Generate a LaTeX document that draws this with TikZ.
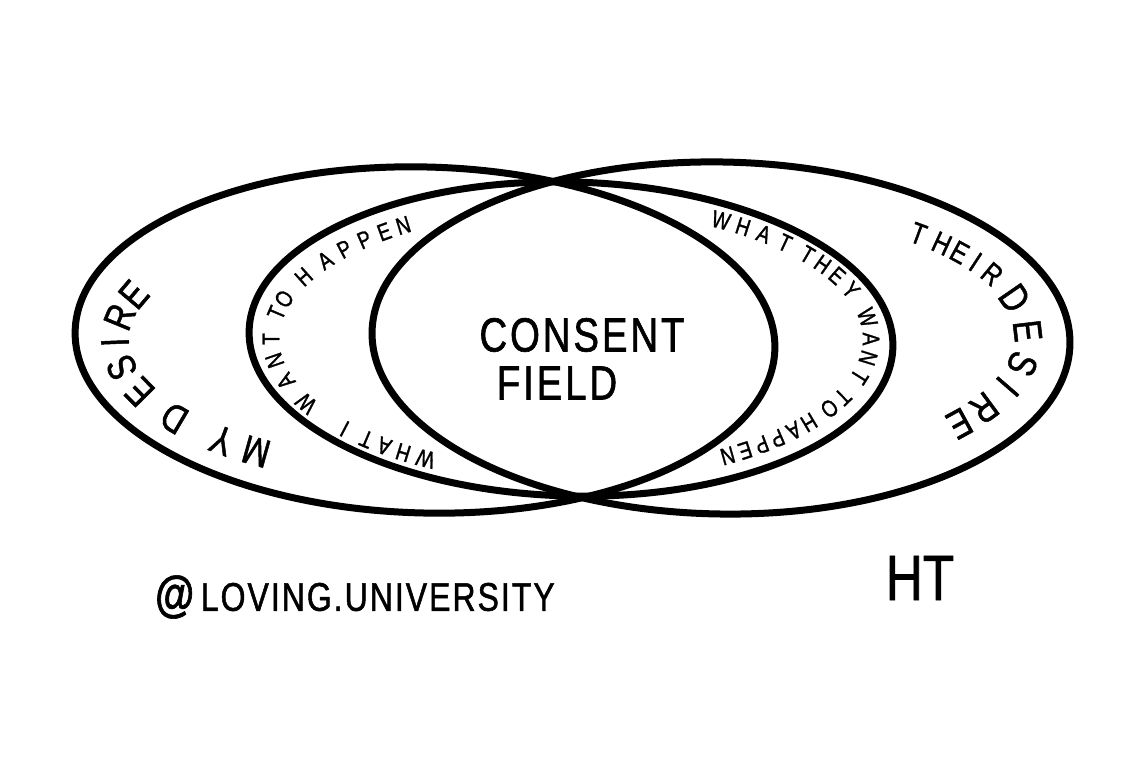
\documentclass[tikz,border=0pt]{standalone}
\usepackage{fontspec}
\setmainfont{Liberation Sans}
\newfontfamily\handfont[FakeStretch=0.8, FakeBold=1.2]{Liberation Sans}
\usetikzlibrary{shapes.geometric}

\begin{document}
\begin{tikzpicture}[
  x=1pt, y=1pt,
  ring/.style={draw=black, line width=7pt, ellipse, inner sep=0pt, outer sep=0pt},
  big/.style={font=\handfont\fontsize{40}{40}\selectfont, text=black, inner sep=0pt},
  mid/.style={font=\handfont\fontsize{30}{30}\selectfont, text=black, inner sep=0pt},
  small/.style={font=\handfont\fontsize{24}{24}\selectfont, text=black, inner sep=0pt},
  label/.style={font=\handfont\fontsize{48}{48}\selectfont\addfontfeature{LetterSpace=6}, text=black, inner sep=0pt},
]
\useasboundingbox (0,0) rectangle (1148,776);
\fill[white] (0,0) rectangle (1148,776);

%% ============ rings ============
\node[ring, minimum width=700pt, minimum height=346pt, rotate=-1.5] (mydesire) at (425,436) {};
\node[ring, minimum width=644pt, minimum height=314pt, rotate=-1.5] (want) at (571,437) {};
\node[ring, minimum width=698pt, minimum height=352pt, rotate=-1] (theirdesire) at (721,438) {};

%% ============ centre ============
\node[label] (consent) at (582,441) {CONSENT};
\node[label] (field) at (557,393) {FIELD};

%% ============ MY DESIRE ============
\def\ecx{425}\def\ecy{436}\def\era{310}\def\erb{133}
\foreach \ch/\t [count=\i] in {M/237, Y/229, D/216, E/203, S/192, I/181, R/170, E/160}
  \node[big, rotate={atan2(-\erb*cos(\t), \era*sin(\t))}] (my\i) at ({\ecx+\era*cos(\t)}, {\ecy+\erb*sin(\t)}) {\ch};

%% ============ THEIR DESIRE ============
\def\ecx{721}\def\ecy{438}\def\era{307}\def\erb{136}
\foreach \ch/\t [count=\i] in {T/50, H/44, E/39, I/34, R/28}
  \node[mid, rotate={atan2(-\erb*cos(\t), \era*sin(\t))}] (their\i) at ({\ecx+\era*cos(\t)}, {\ecy+\erb*sin(\t)}) {\ch};
\foreach \ch/\t [count=\i] in {D/17, E/3, S/-11, I/-21, R/-31, E/-39}
  \node[big, rotate={atan2(-\erb*cos(\t), \era*sin(\t))}] (tdes\i) at ({\ecx+\era*cos(\t)}, {\ecy+\erb*sin(\t)}) {\ch};

%% ============ WHAT I / WHAT THEY WANT TO HAPPEN ============
\def\ecx{571}\def\ecy{437}\def\era{300}\def\erb{137}
\foreach \ch/\t [count=\i] in {W/241, H/236, A/231.5, T/227, I/221, W/208, A/198, N/189, T/180,
    T/169, O/163, H/153, A/145, P/139, P/133.5, E/128.5, N/124}
  \node[small, rotate={atan2(-\erb*cos(\t), \era*sin(\t))}] (iw\i) at ({\ecx+\era*cos(\t)}, {\ecy+\erb*sin(\t)}) {\ch};
\foreach \ch/\t [count=\i] in {W/60, H/55, A/50, T/44.5, T/38, H/33, E/27.5, Y/21, W/9, A/0, N/-8, T/-16,
    T/-25, O/-30.5, H/-37.5, A/-42, P/-46.5, P/-50.5, E/-54.5, N/-58.5}
  \node[small, rotate={atan2(-\erb*cos(\t), \era*sin(\t))}] (tw\i) at ({\ecx+\era*cos(\t)}, {\ecy+\erb*sin(\t)}) {\ch};

%% ============ credits ============
\node[label, anchor=west, font=\handfont\fontsize{40}{40}\selectfont\addfontfeature{LetterSpace=5}] (handle) at (155,179)
  {{\fontsize{50}{50}\selectfont\bfseries @}\,LOVING.UNIVERSITY};
\node[label, font=\handfont\fontsize{64}{64}\selectfont] (sign) at (920,198) {HT};

\end{tikzpicture}
\end{document}
